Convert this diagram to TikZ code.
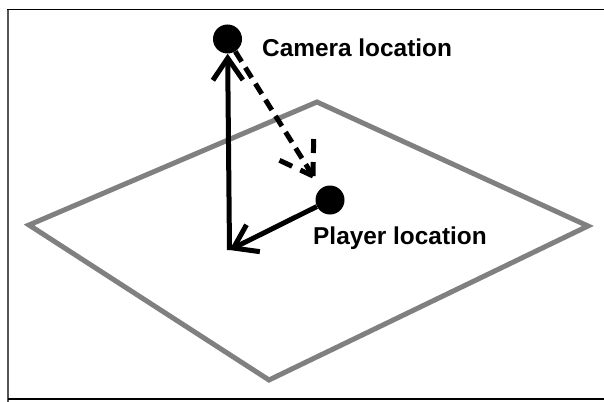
\documentclass[tikz,border=0pt]{standalone}
\usepackage{fontspec}
\setmainfont{Liberation Sans}
\usetikzlibrary{arrows.meta, calc}
\definecolor{planegray}{RGB}{128, 128, 128}
\definecolor{framegray}{RGB}{85, 85, 85}

\begin{document}
\begin{tikzpicture}[
  x=1pt, y=-1pt,
  dot/.style={circle, fill=black, inner sep=0pt, minimum size=29pt},
  vec/.style={line width=5pt, -{Straight Barb[length=22pt, width=30pt]}},
  look/.style={line width=5pt, dash pattern=on 12pt off 7pt},
  lbl/.style={anchor=base west, font=\fontsize{24.4}{28}\selectfont\bfseries, inner sep=0pt},
]
  \useasboundingbox (0,0) rectangle (604,401);

  % Frame
  \draw[framegray, line width=2.5pt] (8,420) -- (8,9.5);
  \draw[black, line width=1.5pt] (7,9.5) -- (620,9.5);
  \draw[black, line width=1.5pt] (8,399) -- (620,399);

  % Ground plane
  \draw[planegray, line width=5pt, line join=miter]
    (29,225) -- (317,102) -- (588,226) -- (269,380) -- cycle;

  % Locations
  \node[dot] (cam) at (227.5,39) {};
  \node[dot] (player) at (330,200) {};
  \coordinate (origin) at (229.5,250);
  \coordinate (viewtip) at (313,176);

  % Vectors
  \draw[vec] (origin) -- (cam);
  \draw[vec] (player) -- (origin);

  % View direction
  \draw[look] (cam) -- (viewtip);
  \draw[look, dash pattern=on 14pt off 9pt] ($(viewtip)!37pt!33:(cam)$) -- (viewtip);
  \draw[look, dash pattern=on 14pt off 9pt] ($(viewtip)!37pt!-33:(cam)$) -- (viewtip);

  % Labels
  \node[lbl] (camlbl) at (262,57) {Camera location};
  \node[lbl] (playerlbl) at (313,244) {Player location};
\end{tikzpicture}
\end{document}
